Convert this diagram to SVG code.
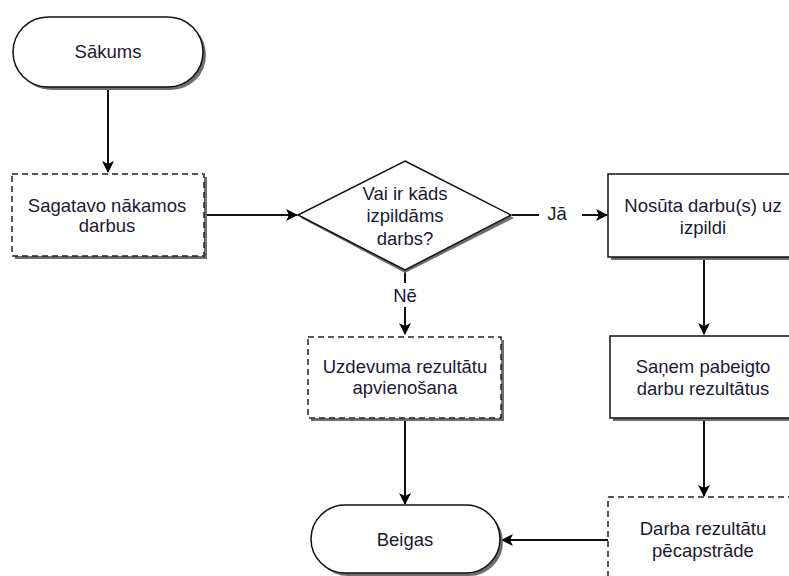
<svg xmlns="http://www.w3.org/2000/svg" width="789" height="576" viewBox="0 0 789 576">
<style>
.sh{fill:#6e6e6e;stroke:none}
.n{fill:#fff;stroke:#111;stroke-width:1.5}
.d{fill:#fff;stroke:#222;stroke-width:1.5;stroke-dasharray:6,4}
.t{font-family:"Liberation Sans",Arial,sans-serif;font-size:18.5px;fill:#1a1a33;text-anchor:middle}
.c{fill:none;stroke:#111;stroke-width:2}
</style>
<defs>
<marker id="ah" markerWidth="12" markerHeight="12" refX="11" refY="6" orient="auto" markerUnits="userSpaceOnUse">
<path d="M0,0 L12,6 L0,12 L3,6 Z" fill="#000"/>
</marker>
</defs>
<rect width="789" height="576" fill="#fff"/>
<g id="connectors">
<line class="c" x1="108" y1="88" x2="108" y2="172" marker-end="url(#ah)"/>
<line class="c" x1="205" y1="215" x2="297" y2="215" marker-end="url(#ah)"/>
<line class="c" x1="512" y1="215" x2="539" y2="215"/>
<line class="c" x1="582" y1="215" x2="607" y2="215" marker-end="url(#ah)"/>
<text class="t" x="557" y="220">Jā</text>
<line class="c" x1="405" y1="270" x2="405" y2="283"/>
<text class="t" x="405" y="302">Nē</text>
<line class="c" x1="405" y1="307" x2="405" y2="334" marker-end="url(#ah)"/>
<line class="c" x1="704" y1="258" x2="704" y2="334" marker-end="url(#ah)"/>
<line class="c" x1="704" y1="419" x2="704" y2="496" marker-end="url(#ah)"/>
<line class="c" x1="405" y1="419" x2="405" y2="504" marker-end="url(#ah)"/>
<line class="c" x1="608" y1="540" x2="502" y2="540" marker-end="url(#ah)"/>
</g>
<g id="start">
<rect class="sh" x="16" y="20" width="190" height="70" rx="35"/>
<rect class="n" x="13" y="17" width="190" height="70" rx="35"/>
<text class="t" x="108" y="58">Sākums</text>
</g>
<g id="prepare">
<rect class="sh" x="15" y="177" width="192" height="82"/>
<rect class="d" x="12" y="174" width="192" height="82"/>
<text class="t" x="107" y="212">Sagatavo nākamos</text>
<text class="t" x="107" y="232">darbus</text>
</g>
<g id="decision">
<polygon class="sh" points="405,164 514,218 405,273 301,218"/>
<polygon class="n" points="405,161 511,215 405,270 298,215"/>
<text class="t" x="405" y="200">Vai ir kāds</text>
<text class="t" x="405" y="222">izpildāms</text>
<text class="t" x="405" y="245">darbs?</text>
</g>
<g id="send">
<rect class="sh" x="611" y="177" width="200" height="83"/>
<rect class="n" x="608" y="174" width="200" height="83"/>
<text class="t" x="703" y="212">Nosūta darbu(s) uz</text>
<text class="t" x="703" y="234">izpildi</text>
</g>
<g id="receive">
<rect class="sh" x="613" y="339" width="200" height="82"/>
<rect class="n" x="610" y="336" width="200" height="82"/>
<text class="t" x="703" y="373">Saņem pabeigto</text>
<text class="t" x="703" y="395">darbu rezultātus</text>
</g>
<g id="merge">
<rect class="sh" x="311" y="340" width="193" height="81"/>
<rect class="d" x="308" y="337" width="193" height="81"/>
<text class="t" x="405" y="373">Uzdevuma rezultātu</text>
<text class="t" x="405" y="394">apvienošana</text>
</g>
<g id="post">
<rect class="sh" x="611" y="500" width="200" height="90"/>
<rect class="d" x="608" y="497" width="200" height="90"/>
<text class="t" x="703" y="535">Darba rezultātu</text>
<text class="t" x="703" y="557">pēcapstrāde</text>
</g>
<g id="end">
<rect class="sh" x="314" y="508" width="189" height="68" rx="34"/>
<rect class="n" x="311" y="505" width="189" height="68" rx="34"/>
<text class="t" x="405" y="546">Beigas</text>
</g>
</svg>
